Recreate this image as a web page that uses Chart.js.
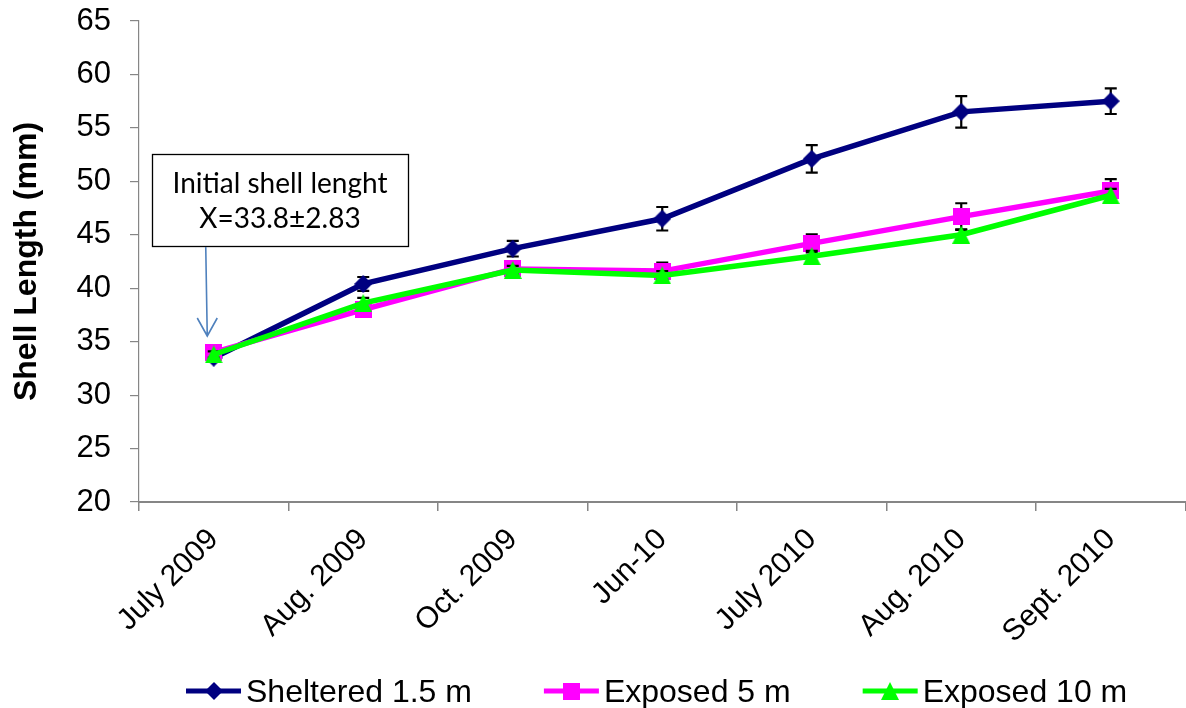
<!DOCTYPE html>
<html>
<head>
<meta charset="utf-8">
<script src="https://cdn.jsdelivr.net/npm/chart.js@4.4.1/dist/chart.umd.min.js"></script>
<style>
  html, body { margin: 0; padding: 0; background: #ffffff; overflow: hidden; }
  #wrap { position: relative; width: 1200px; height: 708px; }
</style>
</head>
<body>
<div id="wrap"><canvas id="shellChart" width="1200" height="708"></canvas></div>
<script>
// Sampling dates
const categories = ['July 2009', 'Aug. 2009', 'Oct. 2009', 'Jun-10', 'July 2010', 'Aug. 2010', 'Sept. 2010'];

// Mean shell length (mm) and error (±) per site
const sheltered    = [33.5, 40.4, 43.7, 46.5, 52.1, 56.5, 57.5];
const shelteredErr = [0.3, 0.65, 0.73, 1.1, 1.28, 1.48, 1.2];

const exposed5     = [34.0, 38.0, 41.8, 41.6, 44.2, 46.7, 49.1];
const exposed5Err  = [0.3, 0.5, 0.6, 0.8, 0.85, 1.25, 1.1];

const exposed10    = [33.8, 38.6, 41.7, 41.2, 43.0, 45.0, 48.7];
const exposed10Err = [0.3, 0.5, 0.4, 0.4, 0.5, 0.5, 0.6];

const seriesNames = ['Sheltered 1.5 m', 'Exposed 5 m', 'Exposed 10 m'];

// Y axis range and step
const yMin = 20, yMax = 65, yStep = 5;

// Callout text
const calloutLines = ['Initial shell lenght', 'X=33.8±2.83'];

const AXIS_FONT = '"Liberation Sans", Arial, sans-serif';

// Marker sprites (centred on their bounding box)
function makeMarker(shape, color, size) {
  const c = document.createElement('canvas');
  c.width = size; c.height = size;
  const g = c.getContext('2d');
  g.fillStyle = color;
  g.beginPath();
  if (shape === 'diamond') {
    g.moveTo(size / 2, 0); g.lineTo(size, size / 2); g.lineTo(size / 2, size); g.lineTo(0, size / 2);
  } else if (shape === 'square') {
    g.rect(0, 0, size, size);
  } else {
    g.moveTo(size / 2, 0); g.lineTo(size, size); g.lineTo(0, size);
  }
  g.closePath();
  g.fill();
  return c;
}

const colors = ['#000080', '#FF00FF', '#00FF00'];
const markers = [
  makeMarker('diamond', colors[0], 18),
  makeMarker('square', colors[1], 17),
  makeMarker('triangle', colors[2], 18)
];
const errors = [shelteredErr, exposed5Err, exposed10Err];

// Vertical error bars with caps, drawn just before each series
const errorBars = {
  id: 'errorBars',
  beforeDatasetDraw(chart, args) {
    const errs = errors[args.index];
    if (!errs) return;
    const ds = chart.data.datasets[args.index];
    const y = chart.scales.y;
    const ctx = chart.ctx;
    ctx.save();
    ctx.strokeStyle = '#000000';
    ctx.lineWidth = 2.2;
    args.meta.data.forEach((pt, i) => {
      const v = ds.data[i], e = errs[i];
      const top = y.getPixelForValue(v + e);
      const bot = y.getPixelForValue(v - e);
      const x = pt.x;
      ctx.beginPath();
      ctx.moveTo(x, top); ctx.lineTo(x, bot);
      ctx.moveTo(x - 6, top); ctx.lineTo(x + 6, top);
      ctx.moveTo(x - 6, bot); ctx.lineTo(x + 6, bot);
      ctx.stroke();
    });
    ctx.restore();
  }
};

// Callout box with arrow pointing at the first sample
const callout = {
  id: 'callout',
  afterDraw(chart) {
    const ctx = chart.ctx;
    const area = chart.chartArea;
    const x0 = chart.scales.x.getPixelForValue(0);
    const bx = area.left + 13, by = 154, bw = 256, bh = 92;
    ctx.save();
    ctx.fillStyle = '#ffffff';
    ctx.fillRect(bx, by, bw, bh);
    ctx.strokeStyle = '#000000';
    ctx.lineWidth = 1.3;
    ctx.strokeRect(bx + 0.5, by + 0.5, bw, bh);
    ctx.fillStyle = '#000000';
    ctx.font = '28px Lato, "Open Sans", sans-serif';
    ctx.textAlign = 'center';
    ctx.textBaseline = 'alphabetic';
    ctx.fillText(calloutLines[0], bx + bw / 2, by + 39);
    ctx.fillText(calloutLines[1], bx + bw / 2, by + 74);
    // arrow
    const tipX = x0 - 6.5, tipY = 336;
    ctx.strokeStyle = '#4F81BD';
    ctx.lineWidth = 1.6;
    ctx.beginPath();
    ctx.moveTo(tipX - 1.5, by + bh + 1);
    ctx.lineTo(tipX, tipY);
    ctx.moveTo(tipX - 10, tipY - 18);
    ctx.lineTo(tipX, tipY);
    ctx.lineTo(tipX + 10, tipY - 18);
    ctx.stroke();
    ctx.restore();
  }
};

// Legend row: line sample with marker, followed by the series name
const legendRow = {
  id: 'legendRow',
  afterDraw(chart) {
    const ctx = chart.ctx;
    ctx.save();
    ctx.font = '32px ' + AXIS_FONT;
    ctx.textBaseline = 'alphabetic';
    ctx.textAlign = 'left';
    let x = chart.chartArea.left + 47;
    const yLine = 691;
    seriesNames.forEach((name, i) => {
      ctx.strokeStyle = colors[i];
      ctx.lineWidth = 5;
      ctx.beginPath();
      ctx.moveTo(x, yLine); ctx.lineTo(x + 55, yLine);
      ctx.stroke();
      const m = markers[i];
      ctx.drawImage(m, Math.round(x + 27.5 - m.width / 2), Math.round(yLine - m.height / 2));
      ctx.fillStyle = '#000000';
      ctx.fillText(name, x + 60, 702);
      x += 60 + ctx.measureText(name).width + 72;
    });
    ctx.restore();
  }
};

const seriesData = [sheltered, exposed5, exposed10];

new Chart(document.getElementById('shellChart'), {
  type: 'line',
  data: {
    labels: categories,
    datasets: seriesData.map((d, i) => ({
      label: seriesNames[i],
      data: d,
      borderColor: colors[i],
      backgroundColor: colors[i],
      borderWidth: 5.5,
      tension: 0,
      fill: false,
      pointStyle: markers[i],
      pointRadius: 9,
      pointHoverRadius: 9,
      order: 3 - i
    }))
  },
  options: {
    responsive: false,
    animation: false,
    devicePixelRatio: 1,
    layout: { padding: { top: 21, right: 5, left: 0, bottom: 0 } },
    plugins: {
      legend: { display: false },
      tooltip: { enabled: false }
    },
    scales: {
      x: {
        type: 'category',
        offset: true,
        grid: { offset: true, drawOnChartArea: false, tickLength: 9, color: '#868686', lineWidth: 1.5 },
        border: { color: '#868686', width: 2 },
        ticks: {
          autoSkip: false, minRotation: 45, maxRotation: 45,
          color: '#000000', padding: 11,
          font: { family: AXIS_FONT, size: 30 }
        },
        afterFit(s) { s.height = 206; s.paddingTop = 0; }
      },
      y: {
        min: yMin, max: yMax,
        grid: { drawOnChartArea: false, tickLength: 9, color: '#868686', lineWidth: 1.2 },
        border: { color: '#868686', width: 1.2 },
        ticks: {
          stepSize: yStep, color: '#000000', padding: 19,
          font: { family: AXIS_FONT, size: 31 }
        },
        title: {
          display: true, text: 'Shell Length (mm)', color: '#000000',
          font: { family: AXIS_FONT, size: 32, weight: 'bold' },
          padding: { top: 8, bottom: 0 }
        },
        afterFit(s) { s.width = 139; s.paddingTop = 12; s.paddingBottom = 0; }
      }
    }
  },
  plugins: [errorBars, callout, legendRow]
});
</script>
</body>
</html>
